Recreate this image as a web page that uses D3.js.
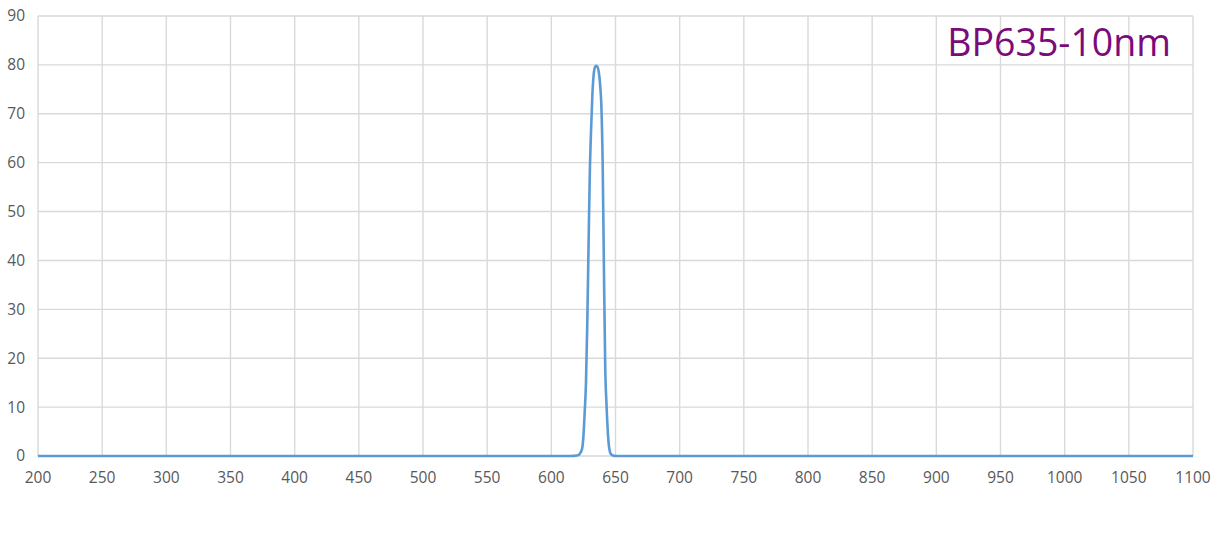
<!DOCTYPE html>
<html>
<head>
<meta charset="utf-8">
<script src="https://cdn.jsdelivr.net/npm/d3@7"></script>
<style>
body{margin:0;background:#fff;}
text{font-family:"Open Sans",sans-serif;}
</style>
</head>
<body>
<div id="chart"></div>
<script>
// transmission curve (wavelength nm, %T)
var wavelength = [200,600,615,620,622,624,625,626,627,628,629,630,631,632,633,634,635,636,637,638,639,640,641,642,643,644,645,646,648,650,700,1100];
var transmission = [0,0,0,0.1,0.4,1.5,4,9,15,27,43,58,67,74,78,79.5,79.8,79.6,78.5,76,71.5,60,38,18,10.5,5,1.8,0.6,0.1,0,0,0];
var xTicks = [200,250,300,350,400,450,500,550,600,650,700,750,800,850,900,950,1000,1050,1100];
var yTicks = [0,10,20,30,40,50,60,70,80,90];
var title = "BP635-10nm";

var W = 1213, H = 553;
var margin = {left:38, right:20, top:16, bottom:97};

var svg = d3.select("#chart").append("svg")
	.attr("width", W)
	.attr("height", H);

var x = d3.scaleLinear().domain([200,1100]).range([margin.left, W - margin.right]);
var y = d3.scaleLinear().domain([0,90]).range([H - margin.bottom, margin.top]);

// grid
svg.append("g").selectAll("line.v")
	.data(xTicks).enter().append("line")
	.attr("x1", d => x(d)).attr("x2", d => x(d))
	.attr("y1", y(90)).attr("y2", y(0))
	.attr("stroke", "#d9d9d9").attr("stroke-width", 1.4);
svg.append("g").selectAll("line.h")
	.data(yTicks).enter().append("line")
	.attr("x1", x(200)).attr("x2", x(1100))
	.attr("y1", d => y(d)).attr("y2", d => y(d))
	.attr("stroke", "#d9d9d9").attr("stroke-width", 1.4);

// tick labels
svg.append("g").selectAll("text")
	.data(yTicks).enter().append("text")
	.attr("x", 25)
	.attr("y", d => y(d))
	.attr("dy", "0.35em")
	.attr("text-anchor", "end")
	.attr("font-size", "15.5px")
	.attr("fill", "#595959")
	.text(d => d);
svg.append("g").selectAll("text")
	.data(xTicks).enter().append("text")
	.attr("x", d => x(d))
	.attr("y", y(0) + 22)
	.attr("dy", "0.35em")
	.attr("text-anchor", "middle")
	.attr("font-size", "15.5px")
	.attr("fill", "#595959")
	.text(d => d);

// curve
var pts = wavelength.map((w,i) => [w, transmission[i]]);
var line = d3.line()
	.x(d => x(d[0]))
	.y(d => y(d[1]))
	.curve(d3.curveMonotoneX);
svg.append("path")
	.datum(pts)
	.attr("d", line)
	.attr("fill", "none")
	.attr("stroke", "#5b9bd5")
	.attr("stroke-width", 2.6)
	.attr("stroke-linejoin", "round");

// title label
svg.append("text")
	.attr("x", 1171)
	.attr("y", 56)
	.attr("text-anchor", "end")
	.attr("font-size", "37.5px")
	.attr("fill", "#7b0a7b")
	.text(title);
</script>
</body>
</html>
